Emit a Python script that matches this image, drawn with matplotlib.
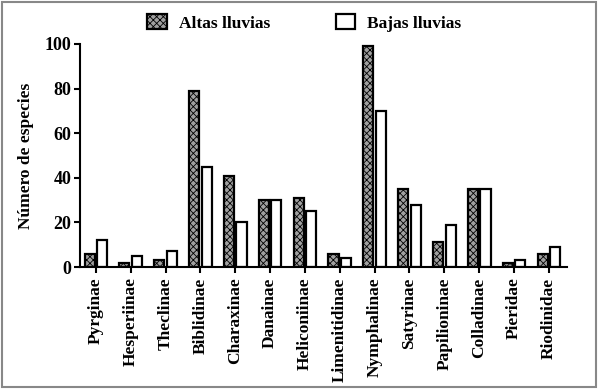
import matplotlib.pyplot as plt
import numpy as np
from matplotlib.patches import Rectangle

plt.rcParams["font.family"] = ["Liberation Serif", "DejaVu Serif"]
plt.rcParams["font.weight"] = "bold"
plt.rcParams["hatch.linewidth"] = 0.6

categories = ["Pyrginae", "Hesperiinae", "Theclinae", "Biblidinae", "Charaxinae",
              "Danainae", "Heliconiinae", "Limenitidinae", "Nymphalinae", "Satyrinae",
              "Papilioninae", "Colladinae", "Pieridae", "Riodinidae"]
altas = [6, 2, 3, 79, 41, 30, 31, 6, 99, 35, 11, 35, 2, 6]
bajas = [12, 5, 7, 45, 20, 30, 25, 4, 70, 28, 19, 35, 3, 9]

fig = plt.figure(figsize=(6, 3.89), dpi=100)
ax = fig.add_axes([0.133, 0.3136, 0.812, 0.5734])

x = np.arange(len(categories))
w = 0.29
ax.bar(x - 0.18, altas, w, facecolor="#a0a0a0", edgecolor="black", hatch="xxxxx",
       linewidth=1.6, label="Altas lluvias")
ax.bar(x + 0.18, bajas, w, facecolor="white", edgecolor="black",
       linewidth=1.6, label="Bajas lluvias")

ax.set_xlim(-0.46, 13.52)
ax.set_ylim(0, 100)
ax.set_yticks([0, 20, 40, 60, 80, 100])
ax.set_xticks(x)
ax.set_xticklabels(categories, rotation=90, fontsize=12.5, fontweight="bold")
ax.tick_params(axis="y", labelsize=13, width=1.5, length=4, pad=2)
ax.tick_params(axis="x", width=1.5, length=4)
for lab in ax.get_yticklabels():
    lab.set_fontweight("bold")
ax.spines["top"].set_visible(False)
ax.spines["right"].set_visible(False)
ax.spines["left"].set_linewidth(1.5)
ax.spines["bottom"].set_linewidth(1.5)
ax.set_ylabel("Número de especies", fontsize=12.5, fontweight="bold", labelpad=8)

ax.legend(loc="lower center", bbox_to_anchor=(0.461, 0.985), ncol=2, frameon=False,
          fontsize=12.5, columnspacing=3.8, handlelength=1.1, handleheight=0.9,
          handletextpad=0.7)

fig.patches.append(Rectangle((0.004, 0.006), 0.99, 0.988, transform=fig.transFigure,
                             fill=False, edgecolor="#888888", linewidth=1.5))

fig.savefig("out.png", dpi=100)
